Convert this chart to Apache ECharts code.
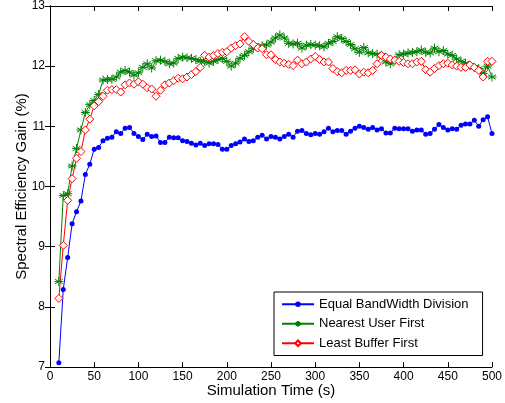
<!DOCTYPE html>
<html>
<head>
<meta charset="utf-8">
<script src="https://cdn.jsdelivr.net/npm/echarts@6/dist/echarts.min.js"></script>
<style>
  html, body { margin: 0; padding: 0; background: #fff; }
  #chart { width: 505px; height: 403px; }
</style>
</head>
<body>
<div id="chart"></div>
<script>
// simulation time, every 5 s from 10 to 500
const times = [];
for (let t = 10; t <= 500; t += 5) times.push(t);

const equalBandwidth = [
  7.07, 8.29, 8.82, 9.38, 9.58, 9.76, 10.20, 10.37, 10.62, 10.65,
  10.76, 10.80, 10.82, 10.91, 10.88, 10.97, 10.98, 10.88, 10.83, 10.78,
  10.87, 10.83, 10.84, 10.73, 10.73, 10.82, 10.81, 10.81, 10.76, 10.75,
  10.72, 10.69, 10.72, 10.68, 10.71, 10.71, 10.70, 10.62, 10.62, 10.68,
  10.71, 10.74, 10.79, 10.75, 10.76, 10.82, 10.85, 10.79, 10.83, 10.82,
  10.79, 10.83, 10.87, 10.82, 10.92, 10.93, 10.88, 10.86, 10.88, 10.87,
  10.91, 10.97, 10.91, 10.93, 10.93, 10.87, 10.92, 10.97, 11.00, 10.98,
  10.95, 10.98, 10.94, 10.96, 10.89, 10.89, 10.97, 10.96, 10.96, 10.96,
  10.92, 10.94, 10.94, 10.87, 10.88, 10.95, 11.03, 10.98, 10.94, 10.96,
  10.95, 11.02, 11.04, 11.04, 11.10, 11.00, 11.11, 11.16, 10.88
];

const nearestUser = [
  8.42, 9.85, 9.88, 10.34, 10.63, 10.94, 11.23, 11.36, 11.43, 11.53,
  11.77, 11.78, 11.78, 11.82, 11.90, 11.93, 11.90, 11.85, 11.89, 11.98,
  12.04, 11.97, 12.09, 12.10, 12.08, 12.04, 12.05, 12.13, 12.15, 12.14,
  12.13, 12.11, 12.08, 12.08, 12.05, 12.08, 12.11, 12.13, 12.08, 12.00,
  12.05, 12.13, 12.18, 12.24, 12.29, 12.31, 12.34, 12.35, 12.40, 12.47,
  12.52, 12.47, 12.38, 12.37, 12.38, 12.30, 12.35, 12.36, 12.35, 12.34,
  12.32, 12.38, 12.41, 12.49, 12.46, 12.41, 12.36, 12.29, 12.23, 12.31,
  12.22, 12.21, 12.20, 12.18, 12.07, 12.04, 12.09, 12.19, 12.20, 12.22,
  12.23, 12.24, 12.27, 12.23, 12.22, 12.30, 12.24, 12.26, 12.20, 12.18,
  12.12, 12.08, 12.05, 12.01, 11.98, 11.96, 11.88, 12.00, 11.82
];

const leastBuffer = [
  8.14, 9.02, 9.77, 10.13, 10.47, 10.58, 10.94, 11.12, 11.34, 11.41,
  11.50, 11.60, 11.61, 11.61, 11.57, 11.69, 11.72, 11.70, 11.74, 11.70,
  11.64, 11.62, 11.50, 11.60, 11.69, 11.72, 11.76, 11.80, 11.79, 11.82,
  11.86, 11.91, 11.98, 12.18, 12.15, 12.18, 12.21, 12.23, 12.24, 12.30,
  12.34, 12.37, 12.49, 12.41, 12.36, 12.30, 12.29, 12.19, 12.19, 12.11,
  12.07, 12.05, 12.03, 12.01, 12.10, 12.04, 12.07, 12.12, 12.16, 12.11,
  12.07, 12.07, 11.96, 11.91, 11.89, 11.93, 11.93, 11.94, 11.87, 11.90,
  11.89, 11.93, 12.04, 12.18, 12.15, 12.12, 12.10, 12.08, 12.06, 12.04,
  12.04, 12.07, 12.08, 11.94, 11.90, 11.96, 12.01, 12.04, 12.05, 12.02,
  12.00, 11.98, 11.98, 12.02, 11.98, 11.93, 11.82, 12.08, 12.08
];

const seriesNames = ["Equal BandWidth Division", "Nearest User First", "Least Buffer First"];

// asterisk marker, drawn as strokes
const asterisk = "path://M5,0L5,10M0.7,2.5L9.3,7.5M0.7,7.5L9.3,2.5M0,5L10,5";

const font = "Liberation Sans, Arial, Helvetica, sans-serif";

function pairs(vals) {
  return vals.map((v, i) => [times[i], v]);
}

const chart = echarts.init(document.getElementById("chart"), null, { renderer: "canvas" });

const axisLine = { show: true, lineStyle: { color: "#000", width: 1 } };

chart.setOption({
  animation: false,
  backgroundColor: "#fff",
  grid: { left: 50, right: 13, top: 4, bottom: 36 },
  legend: {
    orient: "vertical",
    left: 274,
    top: 292,
    padding: [5, 14, 5, 7],
    itemWidth: 32,
    itemHeight: 7,
    itemGap: 5,
    backgroundColor: "#fff",
    borderColor: "#000",
    borderWidth: 1,
    borderRadius: 0,
    textStyle: { fontFamily: font, fontSize: 13, color: "#000", lineHeight: 14.5 },
    data: seriesNames
  },
  xAxis: [
    {
      type: "value", min: 0, max: 500, interval: 50,
      axisLine: axisLine,
      axisTick: { inside: true, length: 5, lineStyle: { color: "#000" } },
      axisLabel: { fontFamily: font, fontSize: 12, color: "#000", margin: 4 },
      splitLine: { show: false },
      name: "Simulation Time (s)",
      nameLocation: "middle",
      nameGap: 16,
      nameMoveOverlap: false,
      nameTextStyle: { fontFamily: font, fontSize: 15, color: "#000" }
    },
    {
      type: "value", min: 0, max: 500, interval: 50, position: "top",
      axisLine: axisLine,
      axisTick: { inside: true, length: 5, lineStyle: { color: "#000" } },
      axisLabel: { show: false },
      splitLine: { show: false }
    }
  ],
  yAxis: [
    {
      type: "value", min: 7, max: 13, interval: 1,
      axisLine: axisLine,
      axisTick: { inside: true, length: 5, lineStyle: { color: "#000" } },
      axisLabel: { fontFamily: font, fontSize: 12, color: "#000", margin: 5 },
      splitLine: { show: false },
      name: "Spectral Efficiency Gain (%)",
      nameLocation: "middle",
      nameGap: 21,
      nameMoveOverlap: false,
      nameTextStyle: { fontFamily: font, fontSize: 15, color: "#000" }
    },
    {
      type: "value", min: 7, max: 13, interval: 1, position: "right",
      axisLine: axisLine,
      axisTick: { inside: true, length: 5, lineStyle: { color: "#000" } },
      axisLabel: { show: false },
      splitLine: { show: false }
    }
  ],
  series: [
    {
      name: seriesNames[0],
      type: "line",
      data: pairs(equalBandwidth),
      symbol: "circle",
      symbolSize: 5,
      color: "#0000ff",
      lineStyle: { width: 1, color: "#0000ff" },
      itemStyle: { color: "#0000ff" }
    },
    {
      name: seriesNames[1],
      type: "line",
      data: pairs(nearestUser),
      symbol: asterisk,
      symbolSize: 9,
      color: "#008000",
      lineStyle: { width: 1, color: "#008000" },
      itemStyle: { color: "#008000", borderColor: "#008000", borderWidth: 1 }
    },
    {
      name: seriesNames[2],
      type: "line",
      data: pairs(leastBuffer),
      symbol: "diamond",
      symbolSize: 8,
      color: "#ff0000",
      lineStyle: { width: 1, color: "#ff0000" },
      itemStyle: { color: "#ffffff", borderColor: "#ff0000", borderWidth: 1 }
    }
  ]
});
</script>
</body>
</html>
